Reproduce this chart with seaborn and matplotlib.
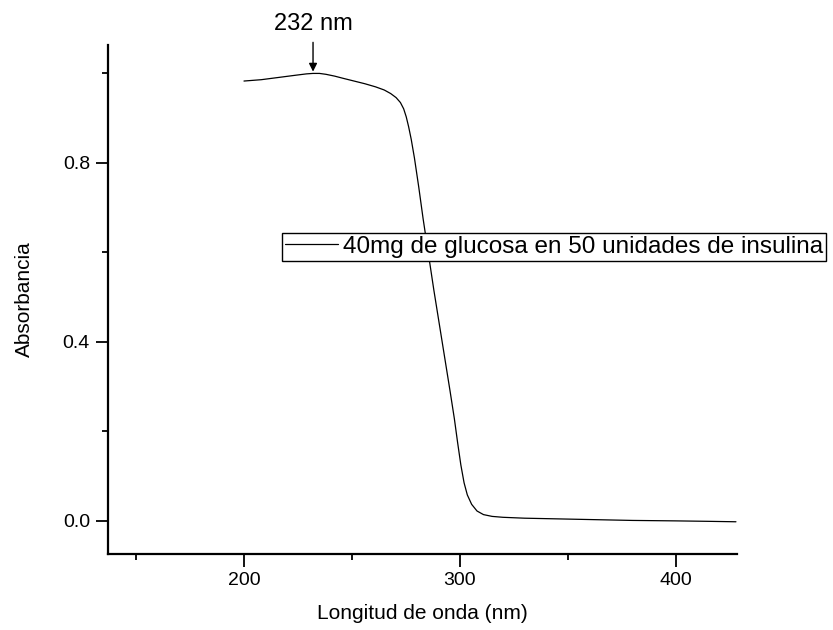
import numpy as np
import pandas as pd
import matplotlib
matplotlib.use("Agg")
import matplotlib.pyplot as plt
from matplotlib.ticker import MultipleLocator
import seaborn as sns

# UV-vis spectrum
wavelength = [200, 208, 216, 224, 229, 232, 235, 238, 242, 246, 251, 256,
              261, 265, 268, 270.5, 272.5, 274, 275.2, 276.3, 277.5, 279,
              281, 283, 285.5, 288, 290.5, 293, 295.5, 297.5, 299, 300.5,
              302, 303.5, 305.5, 308, 311, 315, 320, 330, 340, 360, 380,
              400, 415, 428]
absorbance = [0.982, 0.985, 0.990, 0.995, 0.998, 0.999, 0.999, 0.997, 0.993,
              0.988, 0.982, 0.976, 0.969, 0.962, 0.954, 0.945, 0.934, 0.920,
              0.902, 0.880, 0.852, 0.810, 0.745, 0.675, 0.595, 0.515, 0.440,
              0.365, 0.290, 0.228, 0.175, 0.125, 0.085, 0.058, 0.037, 0.022,
              0.014, 0.010, 0.008, 0.006, 0.005, 0.003, 0.001, 0.0, -0.001,
              -0.002]
series_label = "40mg de glucosa en 50 unidades de insulina"
peak_nm = 232
peak_abs = 0.999
x_major = [200, 300, 400]
y_major = [0.0, 0.4, 0.8]

sns.set_theme(style="ticks")
plt.rcParams['font.family'] = ['Liberation Sans', 'DejaVu Sans']
plt.rcParams['text.color'] = 'black'

df = pd.DataFrame({'wavelength': wavelength, 'absorbance': absorbance})

fig = plt.figure(figsize=(8.33, 6.3), dpi=100)
ax = fig.add_axes([0.1297, 0.1206, 0.7551, 0.808])
sns.lineplot(df, x='wavelength', y='absorbance', ax=ax, color='black',
             linewidth=0.9, label=series_label)

ax.set_xlim(137, 428.5)
ax.set_ylim(-0.074, 1.0625)
ax.set_xticks(x_major)
ax.set_yticks(y_major)
ax.xaxis.set_minor_locator(MultipleLocator(50))
ax.yaxis.set_minor_locator(MultipleLocator(0.2))
ax.set_yticklabels([f"{v:.1f}" for v in y_major])
ax.tick_params(axis='both', which='major', length=9, width=1.3, labelsize=14,
               direction='out', color='black', labelcolor='black', pad=4)
ax.tick_params(axis='both', which='minor', length=4.5, width=1.3,
               direction='out', color='black')
for side in ['top', 'right']:
    ax.spines[side].set_visible(False)
for side in ['left', 'bottom']:
    ax.spines[side].set_color('black')
    ax.spines[side].set_linewidth(1.6)

ax.set_xlabel('Longitud de onda (nm)', fontsize=15, color='black', labelpad=11)
ax.set_ylabel('Absorbancia', fontsize=15, color='black', labelpad=21)

ax.annotate(f"{peak_nm} nm", xy=(peak_nm, peak_abs + 0.004),
            xytext=(peak_nm, 1.085), textcoords='data', ha='center',
            va='bottom', fontsize=17, color='black', annotation_clip=False,
            arrowprops=dict(arrowstyle='-|>', color='black', lw=1.0,
                            mutation_scale=12, shrinkA=3, shrinkB=0))

leg = ax.legend(loc='upper left', bbox_to_anchor=(282 / 833, 1 - 232.7 / 630),
                bbox_transform=fig.transFigure, fontsize=17.5, frameon=True,
                fancybox=False, edgecolor='black', framealpha=1,
                handlelength=2.2, handletextpad=0.2, borderpad=0.12,
                borderaxespad=0, labelcolor='black')
leg.get_frame().set_linewidth(1.0)
for line in leg.get_lines():
    line.set_linewidth(0.9)

fig.savefig('out.png', dpi=100)
